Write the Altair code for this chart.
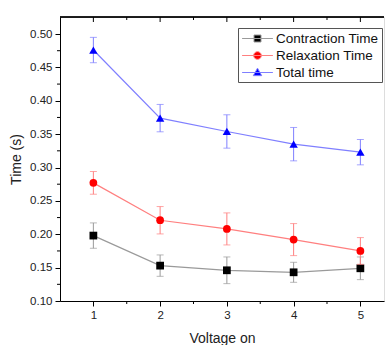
import altair as alt
import pandas as pd

# ---- data ----
voltage = [1, 2, 3, 4, 5]
series_names = ["Contraction Time", "Relaxation Time", "Total time"]
contraction = [0.198, 0.153, 0.146, 0.143, 0.149]
contraction_err = [0.019, 0.016, 0.020, 0.015, 0.017]
relaxation = [0.277, 0.221, 0.208, 0.192, 0.175]
relaxation_err = [0.017, 0.0205, 0.024, 0.024, 0.020]
total = [0.476, 0.374, 0.354, 0.335, 0.323]
total_err = [0.019, 0.0205, 0.025, 0.025, 0.019]

x_major = [1, 2, 3, 4, 5]
x_minor = [1.5, 2.5, 3.5, 4.5]
y_major = [0.10, 0.15, 0.20, 0.25, 0.30, 0.35, 0.40, 0.45, 0.50]
y_minor = [0.125, 0.175, 0.225, 0.275, 0.325, 0.375, 0.425, 0.475]

dark_colors = ["#000000", "#ff0000", "#0000ff"]
light_colors = ["#9a9a9a", "#ff7f7f", "#7f7fff"]
shapes = ["square", "circle", "triangle-up"]

# legend symbols: line + marker in one custom path
legend_paths = [
    "M-2.2,0H2.2M-0.5,-0.5H0.5V0.5H-0.5Z",
    "M-2.2,0H2.2M-0.55,0A0.55,0.55 0 1,1 0.55,0A0.55,0.55 0 1,1 -0.55,0Z",
    "M-2.2,0H2.2M0,-0.62L0.6,0.45L-0.6,0.45Z",
]

rows = []
for name, vals, errs in zip(series_names, [contraction, relaxation, total],
                            [contraction_err, relaxation_err, total_err]):
    for v, y, e in zip(voltage, vals, errs):
        rows.append({"series": name, "voltage": v, "time": y,
                     "lo": y - e, "hi": y + e})
df = pd.DataFrame(rows)
xmaj_df = pd.DataFrame({"t": x_major})
xmin_df = pd.DataFrame({"t": x_minor})
ymin_df = pd.DataFrame({"t": y_minor})
legend_df = pd.DataFrame({"series": series_names})

FONT = "Liberation Sans"
W, H = 324, 284
X_DOM = [0.5, 5.354]
Y_DOM = [0.10, 0.5255]

xscale = alt.Scale(domain=X_DOM, nice=False, zero=False)
yscale = alt.Scale(domain=Y_DOM, nice=False, zero=False)

x_axis = alt.Axis(
    values=x_major, title="Voltage on", grid=False, format="d",
    tickSize=5, domainColor="#000000", tickColor="#000000", labelColor="#222222",
    labelFont=FONT, labelFontSize=11.5, labelPadding=3,
    titleFont=FONT, titleFontSize=14, titleFontWeight="normal",
    titleColor="#222222", titlePadding=11,
)
y_axis = alt.Axis(
    values=y_major, title="Time (s)", grid=False, format=".2f",
    tickSize=5, domainColor="#000000", tickColor="#000000", labelColor="#222222",
    labelFont=FONT, labelFontSize=11.5, labelPadding=3,
    titleFont=FONT, titleFontSize=14, titleFontWeight="normal",
    titleColor="#222222", titlePadding=6,
)


def X(field):
    return alt.X(field, type="quantitative", scale=xscale, axis=x_axis)


def Y(field):
    return alt.Y(field, type="quantitative", scale=yscale, axis=y_axis)


layers = []
for name, dc, lc, shp in zip(series_names, dark_colors, light_colors, shapes):
    base = alt.Chart(df).transform_filter(alt.datum.series == name)
    line = base.mark_line(color=lc, strokeWidth=1.2).encode(x=X("voltage"), y=Y("time"))
    bar = base.mark_rule(color=lc, strokeWidth=1).encode(
        x=X("voltage"), y=Y("lo"), y2="hi:Q")
    cap_hi = base.mark_tick(color=lc, size=7, thickness=1, orient="horizontal").encode(
        x=X("voltage"), y=Y("hi"))
    cap_lo = base.mark_tick(color=lc, size=7, thickness=1, orient="horizontal").encode(
        x=X("voltage"), y=Y("lo"))
    pts = base.mark_point(shape=shp, filled=True, color=dc, opacity=1,
                          size=60 if shp != "triangle-up" else 70).encode(
        x=X("voltage"), y=Y("time"))
    layers += [line, bar, cap_hi, cap_lo, pts]

# frame top line and tick marks (minor ticks, inward top ticks)
top_line = alt.Chart(legend_df).mark_rule(color="#000000", strokeWidth=1).encode(
    x=alt.value(0), x2=alt.value(W), y=alt.value(0))
top_major = alt.Chart(xmaj_df).mark_rule(color="#000000").encode(
    x=X("t"), y=alt.value(0), y2=alt.value(5))
top_minor = alt.Chart(xmin_df).mark_rule(color="#000000").encode(
    x=X("t"), y=alt.value(0), y2=alt.value(3))
bottom_minor = alt.Chart(xmin_df).mark_rule(color="#000000").encode(
    x=X("t"), y=alt.value(H), y2=alt.value(H + 3))
left_minor = alt.Chart(ymin_df).mark_rule(color="#000000").encode(
    y=Y("t"), x=alt.value(-3), x2=alt.value(0))

# legend-only layer (clipped out of view)
legend_layer = alt.Chart(legend_df).mark_point(clip=True, filled=True, size=196,
                                               strokeWidth=1, opacity=1).encode(
    x=alt.value(-200), y=alt.value(-200),
    shape=alt.Shape("series:N", scale=alt.Scale(domain=series_names, range=legend_paths),
                    legend=alt.Legend(
                        title=None, orient="none", legendX=178, legendY=11,
                        fillColor="white", strokeColor="#555555", padding=3,
                        labelFont=FONT, labelFontSize=13.5, labelColor="#111111",
                        symbolSize=196, symbolOffset=9, labelOffset=11,
                        rowPadding=3, symbolStrokeWidth=1)),
    fill=alt.Fill("series:N", scale=alt.Scale(domain=series_names, range=dark_colors)),
    stroke=alt.Stroke("series:N", scale=alt.Scale(domain=series_names, range=light_colors)),
)

chart = alt.layer(*layers, top_line, top_major, top_minor, bottom_minor, left_minor,
                  legend_layer).properties(
    width=W, height=H,
    autosize=alt.AutoSizeParams(type="none"),
    padding={"left": 60, "top": 17, "right": 1, "bottom": 44},
).configure_view(stroke="transparent").configure(background="white")

chart.save("out.html", embed_options={"renderer": "svg", "actions": False})
